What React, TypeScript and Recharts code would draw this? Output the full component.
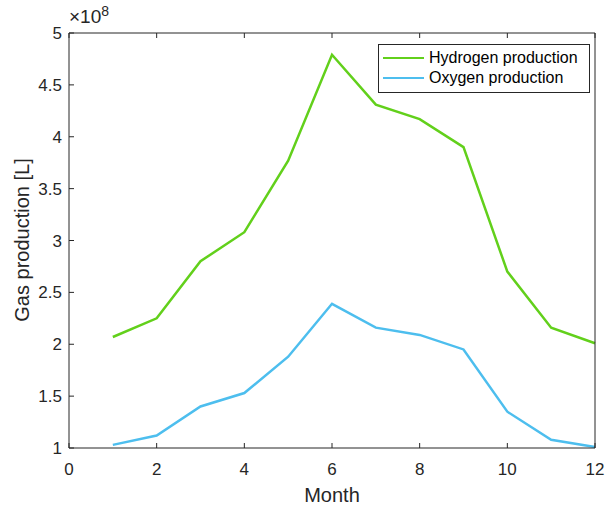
import { LineChart, Line, XAxis, YAxis } from "recharts";

const months = [1, 2, 3, 4, 5, 6, 7, 8, 9, 10, 11, 12];
// values in units of 1e8 L
const hydrogen = [2.07, 2.25, 2.8, 3.08, 3.77, 4.79, 4.31, 4.17, 3.9, 2.7, 2.16, 2.01];
const oxygen = [1.03, 1.12, 1.4, 1.53, 1.88, 2.39, 2.16, 2.09, 1.95, 1.35, 1.08, 1.01];

const xTicks = [0, 2, 4, 6, 8, 10, 12];
const yTicks = [1, 1.5, 2, 2.5, 3, 3.5, 4, 4.5, 5];

const GREEN = "#62D01B";
const BLUE = "#4DBEEE";
const AXIS = "#262626";
const FONT = "'Liberation Sans', Arial, Helvetica, sans-serif";
const TICK_LEN = 5;

const rows = months.map((m, i) => ({
  month: m,
  hydrogen: hydrogen[i],
  oxygen: oxygen[i],
}));

// MATLAB style ticks point into the plot area
const BottomTick = (props: any) => {
  const { x, y, payload } = props;
  const axisY = y - 14;
  return (
    <g>
      <line x1={x} x2={x} y1={axisY} y2={axisY - TICK_LEN} stroke={AXIS} strokeWidth={1} />
      <text x={x} y={axisY + 27} textAnchor="middle" fill={AXIS} fontSize={17} fontFamily={FONT}>
        {payload.value}
      </text>
    </g>
  );
};

const LeftTick = (props: any) => {
  const { x, y, payload } = props;
  const axisX = x + 7;
  return (
    <g>
      <line x1={axisX} x2={axisX + TICK_LEN} y1={y} y2={y} stroke={AXIS} strokeWidth={1} />
      <text x={axisX - 7} y={y + 6} textAnchor="end" fill={AXIS} fontSize={17} fontFamily={FONT}>
        {payload.value}
      </text>
    </g>
  );
};

const TopTick = (props: any) => {
  const { x, y } = props;
  return <line x1={x} x2={x} y1={y} y2={y + TICK_LEN} stroke={AXIS} strokeWidth={1} />;
};

const RightTick = (props: any) => {
  const { x, y } = props;
  return <line x1={x} x2={x - TICK_LEN} y1={y} y2={y} stroke={AXIS} strokeWidth={1} />;
};

const legendItems = [
  { name: "Hydrogen production", color: GREEN },
  { name: "Oxygen production", color: BLUE },
];

export default function App() {
  return (
    <div style={{ position: "absolute", left: 0, top: 0, fontFamily: FONT }}>
      <LineChart
        width={607}
        height={510}
        data={rows}
        margin={{ top: 32, right: 11, bottom: 0, left: 0 }}
      >
        <XAxis
          dataKey="month"
          type="number"
          domain={[0, 12]}
          ticks={xTicks}
          height={62}
          stroke={AXIS}
          axisLine
          tickLine={false}
          tickSize={0}
          tickMargin={14}
          tick={BottomTick}
        />
        <XAxis
          xAxisId="top"
          dataKey="month"
          type="number"
          orientation="top"
          domain={[0, 12]}
          ticks={xTicks}
          height={1}
          stroke={AXIS}
          axisLine
          tickLine={false}
          tickSize={0}
          tickMargin={0}
          tick={TopTick}
        />
        <YAxis
          type="number"
          domain={[1, 5]}
          ticks={yTicks}
          width={69}
          stroke={AXIS}
          axisLine
          tickLine={false}
          tickSize={0}
          tickMargin={7}
          tick={LeftTick}
        />
        <YAxis
          yAxisId="right"
          orientation="right"
          type="number"
          domain={[1, 5]}
          ticks={yTicks}
          width={1}
          stroke={AXIS}
          axisLine
          tickLine={false}
          tickSize={0}
          tickMargin={0}
          tick={RightTick}
        />
        <Line
          name="Hydrogen production"
          dataKey="hydrogen"
          stroke={GREEN}
          strokeWidth={2.5}
          dot={false}
          isAnimationActive={false}
        />
        <Line
          name="Oxygen production"
          dataKey="oxygen"
          stroke={BLUE}
          strokeWidth={2.5}
          dot={false}
          isAnimationActive={false}
        />
      </LineChart>
      <div style={{ position: "absolute", left: 0, top: 240, width: 0, height: 0 }}>
        <div
          style={{
            position: "absolute",
            left: 22,
            top: 0,
            transform: "translate(-50%, -50%) rotate(-90deg)",
            whiteSpace: "nowrap",
            fontSize: 20,
            lineHeight: "22px",
            color: AXIS,
          }}
        >
          Gas production [L]
        </div>
      </div>
      <div
        style={{
          position: "absolute",
          left: 332,
          top: 495,
          transform: "translate(-50%, -50%)",
          fontSize: 20,
          lineHeight: "22px",
          color: AXIS,
          whiteSpace: "nowrap",
        }}
      >
        Month
      </div>
      <div
        style={{
          position: "absolute",
          left: 69,
          top: 6,
          fontSize: 19,
          lineHeight: "22px",
          color: AXIS,
          whiteSpace: "nowrap",
        }}
      >
        ×10<sup style={{ fontSize: 14, lineHeight: 0 }}>8</sup>
      </div>
      <div
        style={{
          position: "absolute",
          left: 378,
          top: 44,
          width: 212,
          height: 49,
          boxSizing: "border-box",
          border: "1px solid #262626",
          background: "#fff",
          padding: "3px 0 0 4px",
          fontSize: 16,
          color: "#000",
        }}
      >
        {legendItems.map((it) => (
          <div key={it.name} style={{ display: "flex", alignItems: "center", height: 20 }}>
            <span
              style={{
                display: "inline-block",
                width: 41,
                height: 2,
                background: it.color,
                marginRight: 5,
              }}
            />
            {it.name}
          </div>
        ))}
      </div>
    </div>
  );
}
